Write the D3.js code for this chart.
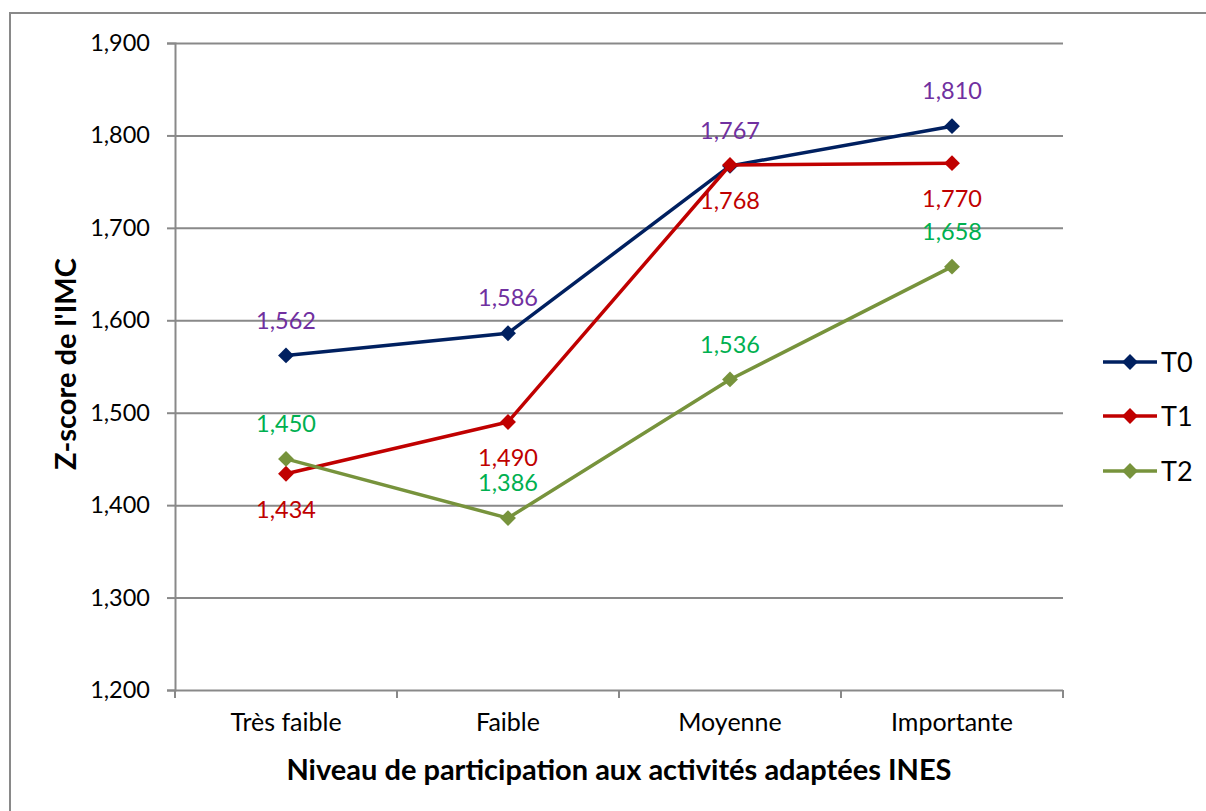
<!DOCTYPE html>
<html>
<head>
<meta charset="utf-8">
<script src="https://cdn.jsdelivr.net/npm/d3@7/dist/d3.min.js"></script>
<style>
  html, body { margin: 0; padding: 0; background: #fff; }
  svg { display: block; }
  text { font-family: Lato, "Open Sans", sans-serif; }
</style>
</head>
<body>
<svg id="chart" width="1206" height="811"></svg>
<script>
// Participation levels and z-score of BMI at three time points
const categories = ["Très faible", "Faible", "Moyenne", "Importante"];
const seriesNames = ["T0", "T1", "T2"];
const t0Values = [1.562, 1.586, 1.767, 1.810];
const t1Values = [1.434, 1.490, 1.768, 1.770];
const t2Values = [1.450, 1.386, 1.536, 1.658];
const yTicks = [1.2, 1.3, 1.4, 1.5, 1.6, 1.7, 1.8, 1.9];
const yTitle = "Z-score de l'IMC";
const xTitle = "Niveau de participation aux activités adaptées INES";

const series = [
  { name: seriesNames[0], values: t0Values, line: "#002060", label: "#7030A0", pos: "above" },
  { name: seriesNames[1], values: t1Values, line: "#C00000", label: "#C00000", pos: "below" },
  { name: seriesNames[2], values: t2Values, line: "#77933C", label: "#00B050", pos: "above" }
];

const svg = d3.select("#chart");
const plot = { left: 175, right: 1063, top: 43, bottom: 690 };
const gridColor = "#898989";

// outer chart frame (runs past the right and bottom edges)
svg.append("rect")
  .attr("x", 10).attr("y", 13)
  .attr("width", 1250).attr("height", 900)
  .attr("fill", "none").attr("stroke", gridColor).attr("stroke-width", 2);

const x = d3.scaleBand().domain(categories).range([plot.left, plot.right]).padding(0);
const y = d3.scaleLinear().domain([1.2, 1.9]).range([plot.bottom, plot.top]);
const fmt = v => d3.format(".3f")(v).replace(".", ",");

// horizontal gridlines with left tick marks
const yAxis = d3.axisLeft(y).tickValues(yTicks).tickSize(8).tickPadding(17).tickFormat(fmt);
const gy = svg.append("g").attr("transform", `translate(${plot.left},0)`).call(yAxis);
gy.select(".domain").attr("stroke", gridColor).attr("stroke-width", 2);
gy.selectAll(".tick line").attr("stroke", gridColor).attr("stroke-width", 2);
gy.selectAll(".tick text").attr("font-size", 23.5).attr("fill", "#000");
gy.selectAll(".tick").append("line")
  .attr("x1", 0).attr("x2", plot.right - plot.left)
  .attr("stroke", gridColor).attr("stroke-width", 2);

// category axis: ticks at the band boundaries
const boundaries = categories.map(c => x(c)).concat([plot.right]);
const gx = svg.append("g");
gx.selectAll("line.bt").data(boundaries).join("line")
  .attr("x1", d => d).attr("x2", d => d)
  .attr("y1", plot.bottom).attr("y2", plot.bottom + 8)
  .attr("stroke", gridColor).attr("stroke-width", 2);
gx.selectAll("text").data(categories).join("text")
  .attr("x", d => x(d) + x.bandwidth() / 2)
  .attr("y", 722)
  .attr("dy", "0.35em")
  .attr("text-anchor", "middle")
  .attr("font-size", 25)
  .attr("fill", "#000")
  .text(d => d);

// axis titles
svg.append("text")
  .attr("transform", `translate(66,364) rotate(-90)`)
  .attr("text-anchor", "middle").attr("dy", "0.35em")
  .attr("font-size", 29).attr("font-weight", "bold").attr("fill", "#000")
  .text(yTitle);
svg.append("text")
  .attr("x", 619).attr("y", 770).attr("dy", "0.35em")
  .attr("text-anchor", "middle")
  .attr("font-size", 29).attr("font-weight", "bold").attr("fill", "#000")
  .text(xTitle);

const cx = (d, i) => x(categories[i]) + x.bandwidth() / 2;
const line = d3.line().x(cx).y(d => y(d));
const diamond = d3.symbol().type(d3.symbolDiamond2).size(160);

series.forEach(s => {
  const g = svg.append("g");
  g.append("path").datum(s.values)
    .attr("d", line).attr("fill", "none")
    .attr("stroke", s.line).attr("stroke-width", 3.5).attr("stroke-linejoin", "round");
  g.selectAll("path.m").data(s.values).join("path")
    .attr("class", "m")
    .attr("transform", (d, i) => `translate(${cx(d, i)},${y(d)})`)
    .attr("d", diamond).attr("fill", s.line);
});

// value labels drawn last so they sit on top of the lines
series.forEach(s => {
  svg.append("g").selectAll("text").data(s.values).join("text")
    .attr("x", (d, i) => cx(d, i))
    .attr("y", d => y(d) + (s.pos === "above" ? -35 : 36))
    .attr("dy", "0.35em")
    .attr("text-anchor", "middle")
    .attr("font-size", 23.5)
    .attr("fill", s.label)
    .text(fmt);
});

// legend
const legend = svg.append("g");
series.forEach((s, i) => {
  const ly = [362, 416, 471][i];
  legend.append("line")
    .attr("x1", 1103).attr("x2", 1157).attr("y1", ly).attr("y2", ly)
    .attr("stroke", s.line).attr("stroke-width", 3.5);
  legend.append("path")
    .attr("transform", `translate(1130,${ly})`)
    .attr("d", diamond).attr("fill", s.line);
  legend.append("text")
    .attr("x", 1161).attr("y", ly).attr("dy", "0.36em")
    .attr("font-size", 27).attr("fill", "#000")
    .text(s.name);
});
</script>
</body>
</html>
